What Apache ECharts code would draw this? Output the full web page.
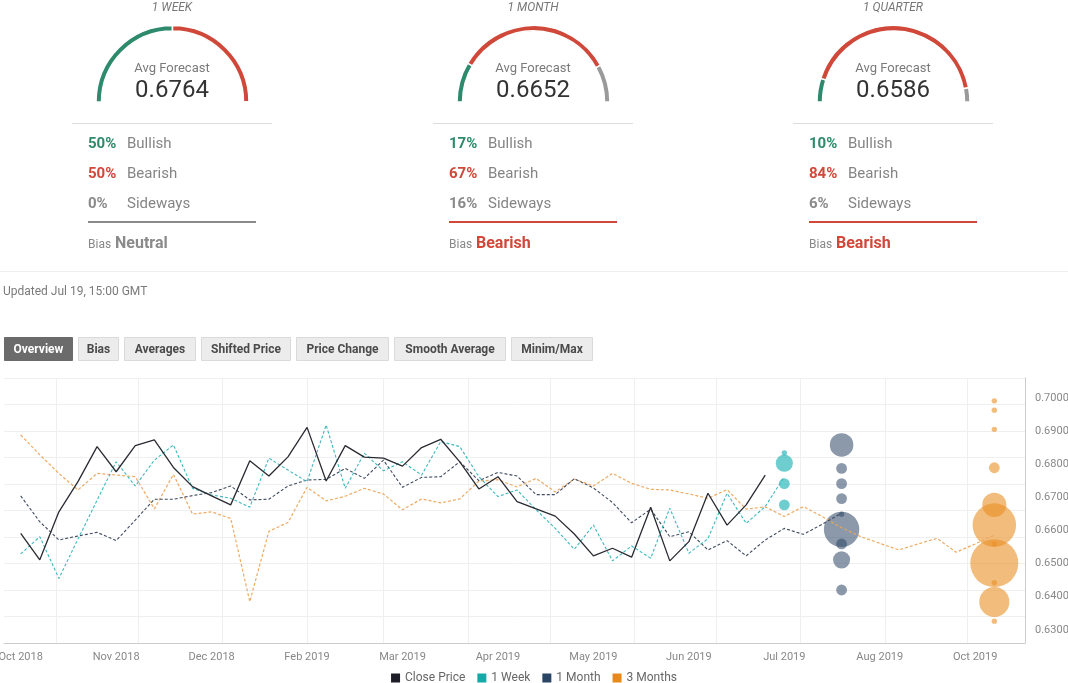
<!DOCTYPE html>
<html>
<head>
<meta charset="utf-8">
<script src="https://cdn.jsdelivr.net/npm/echarts@6/dist/echarts.min.js"></script>
<style>
html,body{margin:0;padding:0;background:#fff;}
#main{width:1068px;height:683px;}
</style>
</head>
<body>
<div id="main"></div>
<script>
// ---------- DATA ----------
const weekDates = [
  '2018-10-19','2018-10-26','2018-11-02','2018-11-09','2018-11-16','2018-11-23','2018-11-30',
  '2018-12-07','2018-12-14','2018-12-21','2018-12-28','2019-01-04','2019-01-11','2019-01-18',
  '2019-01-25','2019-02-01','2019-02-08','2019-02-15','2019-02-22','2019-03-01','2019-03-08',
  '2019-03-15','2019-03-22','2019-03-29','2019-04-05','2019-04-12','2019-04-19','2019-04-26',
  '2019-05-03','2019-05-10','2019-05-17','2019-05-24','2019-05-31','2019-06-07','2019-06-14',
  '2019-06-21','2019-06-28','2019-07-05','2019-07-12','2019-07-19','2019-07-26','2019-08-02',
  '2019-08-09','2019-08-16','2019-08-23','2019-08-30','2019-09-06','2019-09-13','2019-09-20',
  '2019-09-27','2019-10-04','2019-10-11'
];
const closePrice = [
  0.6591,0.6511,0.6656,0.6747,0.6853,0.6777,0.6856,0.6873,0.6790,0.6732,
  0.6704,0.6677,0.6810,0.6764,0.6822,0.6911,0.6749,0.6856,0.6821,0.6818,
  0.6794,0.6850,0.6875,0.6807,0.6725,0.6762,0.6687,0.6665,0.6643,0.6589,
  0.6523,0.6546,0.6519,0.6670,0.6508,0.6566,0.6712,0.6616,0.6677,0.6767
];
const week1 = [
  0.6529,0.6581,0.6455,0.6574,0.6691,0.6807,0.6734,0.6812,0.6858,0.6727,
  0.6707,0.6697,0.6670,0.6818,0.6782,0.6747,0.6918,0.6727,0.6833,0.6780,
  0.6807,0.6767,0.6868,0.6853,0.6762,0.6702,0.6722,0.6662,0.6606,0.6543,
  0.6616,0.6508,0.6553,0.6516,0.6667,0.6531,0.6575,0.6712,0.6621,0.6672,0.6762
];
const month1 = [
  0.6704,0.6626,0.6571,0.6583,0.6594,0.6569,0.6631,0.6694,0.6694,0.6705,
  0.6714,0.6734,0.6692,0.6694,0.6734,0.6752,0.6754,0.6787,0.6757,0.6812,
  0.6730,0.6760,0.6762,0.6807,0.6750,0.6775,0.6764,0.6708,0.6708,0.6756,
  0.6728,0.6684,0.6623,0.6664,0.6581,0.6596,0.6541,0.6569,0.6523,0.6571,
  0.6606,0.6588,0.6619,0.6652
];
const months3 = [
  0.6888,0.6828,0.6772,0.6722,0.6772,0.6767,0.6762,0.6665,0.6769,0.6649,
  0.6656,0.6636,0.6385,0.6597,0.6624,0.6730,0.6689,0.6703,0.6727,0.6710,
  0.6662,0.6695,0.6683,0.6695,0.6749,0.6753,0.6731,0.6757,0.6716,0.6755,
  0.6734,0.6772,0.6742,0.6724,0.6722,0.6710,0.6697,0.6723,0.6664,0.6671,
  0.6642,0.6672,0.6641,0.6608,0.6581,0.6561,0.6541,0.6559,0.6576,0.6534,
  0.6559,0.6586
];
// forecast bubbles: [value, number of forecasts]
const week1Date = '2019-07-26';
const month1Date = '2019-08-16';
const months3Date = '2019-10-11';
const week1Bubbles = [[0.6834,1],[0.6803,10],[0.6741,4],[0.6677,4]];
const month1Bubbles = [[0.6858,19],[0.6787,4],[0.6741,4],[0.6696,4],[0.6649,1],[0.6603,43],[0.6559,4],[0.6511,10],[0.6420,4]];
const months3Bubbles = [[0.6991,1],[0.6963,1],[0.6905,1],[0.6789,4],[0.6677,20],[0.6616,65],[0.6559,1],[0.6501,79],[0.6442,1],[0.6384,31],[0.6326,1]];

const monthStarts = ['2018-11-01','2018-12-01','2019-01-01','2019-02-01','2019-03-01','2019-04-01',
  '2019-05-01','2019-06-01','2019-07-01','2019-08-01','2019-09-01','2019-10-01'];
const xLabelDates = ['2018-10-19','2018-11-23','2018-12-28','2019-02-01','2019-03-08','2019-04-12',
  '2019-05-17','2019-06-21','2019-07-26','2019-08-30','2019-10-04'];
const xTickLabels = ['Oct 2018','Nov 2018','Dec 2018','Feb 2019','Mar 2019','Apr 2019',
  'May 2019','Jun 2019','Jul 2019','Aug 2019','Oct 2019'];
const yTickLabels = [0.63,0.64,0.65,0.66,0.67,0.68,0.69,0.70];

const seriesNames = ['Close Price','1 Week','1 Month','3 Months'];
const horizons = ['1 WEEK','1 MONTH','1 QUARTER'];
const avgForecast = ['0.6764','0.6652','0.6586'];
const bullish = [50,17,10];
const bearish = [50,67,84];
const sideways = [0,16,6];
const biasWords = ['Neutral','Bearish','Bearish'];
const tabs = ['Overview','Bias','Averages','Shifted Price','Price Change','Smooth Average','Minim/Max'];
const updatedText = 'Updated Jul 19, 15:00 GMT';

// ---------- HELPERS ----------
const ts = s => { const p = s.split('-').map(Number); return Date.UTC(p[0], p[1]-1, p[2]); };
const pair = (arr) => arr.map((v,i) => [ts(weekDates[i]), v]);
const bubbles = (date, arr) => arr.map(b => [ts(date), b[0], b[1]]);
const labelMap = {};
xLabelDates.forEach((d,i) => { labelMap[ts(d)] = xTickLabels[i]; });
const labelFor = v => {
  let best = '', bd = Infinity;
  for (const k in labelMap) { const d = Math.abs(Number(k) - v); if (d < bd) { bd = d; best = labelMap[k]; } }
  return bd < 86400000 ? best : '';
};

const GREEN = '#2e8a6c', RED = '#d0483a', GRAY = '#9a9a9a';
const FONT = 'Roboto, "Noto Sans", sans-serif';
const legendColors = ['#1d1d28','#19a8a8','#2b4565','#e88a1a'];

// ---------- TOP PANELS ----------
const graphics = [];
const pies = [];
const panelLeft = [72, 433, 793];
horizons.forEach((h, i) => {
  const ox = panelLeft[i], cx = ox + 100;
  graphics.push({type:'text', x:cx, y:8, style:{text:h, fill:'#777', font:'italic 12px '+FONT, align:'center', verticalAlign:'middle'}});
  graphics.push({type:'text', x:cx, y:68.5, style:{text:'Avg Forecast', fill:'#7a7a7a', font:'13px '+FONT, align:'center', verticalAlign:'middle'}});
  graphics.push({type:'text', x:cx, y:90.5, style:{text:avgForecast[i], fill:'#333', font:'24px '+FONT, align:'center', verticalAlign:'middle'}});
  graphics.push({type:'line', shape:{x1:ox, y1:123.5, x2:ox+200, y2:123.5}, style:{stroke:'#dddddd', lineWidth:1}});
  const rows = [[bullish[i], 'Bullish', GREEN],[bearish[i], 'Bearish', RED],[sideways[i], 'Sideways', '#8a8a8a']];
  rows.forEach((r, j) => {
    const y = 144.5 + j*30;
    graphics.push({type:'text', x:ox+16, y:y, style:{text:r[0]+'%', fill:r[2], font:'bold 15px '+FONT, align:'left', verticalAlign:'middle'}});
    graphics.push({type:'text', x:ox+55, y:y, style:{text:r[1], fill:'#858585', font:'15px '+FONT, align:'left', verticalAlign:'middle'}});
  });
  const biasColor = biasWords[i] === 'Neutral' ? '#8a8a8a' : RED;
  graphics.push({type:'line', shape:{x1:ox+16, y1:222, x2:ox+184, y2:222}, style:{stroke:biasColor, lineWidth:2}});
  graphics.push({type:'text', x:ox+16, y:251, style:{text:'Bias', fill:'#888', font:'12px '+FONT, align:'left', verticalAlign:'bottom'}});
  graphics.push({type:'text', x:ox+43, y:252, style:{text:biasWords[i], fill:biasColor, font:'bold 16px '+FONT, align:'left', verticalAlign:'bottom'}});
  pies.push({
    type:'pie', silent:true, center:[cx+0.5, 102], radius:[71, 76.5], startAngle:180, clockwise:true,
    label:{show:false}, labelLine:{show:false}, animation:false,
    itemStyle:{borderColor:'#fff', borderWidth:1.5},
    data:[
      {name:'bull'+i, value:bullish[i], itemStyle:{color:GREEN}},
      {name:'bear'+i, value:bearish[i], itemStyle:{color:RED}},
      {name:'side'+i, value:sideways[i], itemStyle:{color:GRAY}},
      {name:'rest'+i, value:bullish[i]+bearish[i]+sideways[i], itemStyle:{color:'rgba(0,0,0,0)', borderWidth:0}}
    ]
  });
});
graphics.push({type:'line', shape:{x1:0, y1:271.5, x2:1068, y2:271.5}, style:{stroke:'#eeeeee', lineWidth:1}});
graphics.push({type:'text', x:3, y:292, style:{text:updatedText, fill:'#7a7a7a', font:'12px '+FONT, align:'left', verticalAlign:'middle'}});

// tabs
const tabBoxes = [[4,68],[78,40],[124,71],[201,89],[296,92],[394,111],[511,81]];
tabs.forEach((t, i) => {
  const b = tabBoxes[i];
  const active = i === 0;
  graphics.push({type:'rect', shape:{x:b[0]+0.5, y:337.5, width:b[1], height:23},
    style:{fill: active ? '#6b6b6b' : '#ececec', stroke: active ? '#6b6b6b' : '#dadada', lineWidth:1}});
  graphics.push({type:'text', x:b[0]+b[1]/2+0.5, y:350, style:{text:t, fill: active ? '#fff' : '#4a4a4a',
    font:'bold 12px '+FONT, align:'center', verticalAlign:'middle'}});
});

// ---------- CHART ----------
const dash = [3, 2];
const option = {
  animation: false,
  backgroundColor: '#fff',
  graphic: graphics,
  legend: {
    left: 'center', top: 667, icon: 'rect', itemWidth: 9, itemHeight: 9, itemGap: 12,
    textStyle: {fontSize: 12, color: '#666', fontFamily: FONT},
    itemStyle: {borderWidth: 0, opacity: 1},
    data: seriesNames.map((n, i) => ({name: n, itemStyle: {color: legendColors[i], borderWidth: 0, opacity: 1}}))
  },
  grid: {left: 4, right: 43, top: 378, bottom: 40, containLabel: false, outerBoundsMode: 'none'},
  xAxis: {
    type: 'value',
    min: Date.UTC(2018, 9, 12, 21),
    max: Date.UTC(2019, 9, 22, 6),
    axisLine: {show: true, onZero: false, lineStyle: {color: '#cccccc'}},
    axisTick: {show: false, customValues: monthStarts.map(ts)},
    splitLine: {show: true, lineStyle: {color: '#efefef', width: 1}},
    axisLabel: {
      customValues: xLabelDates.map(ts),
      formatter: v => labelFor(Number(v)),
      color: '#888', fontSize: 11, fontFamily: FONT, margin: 9
    }
  },
  yAxis: {
    type: 'value', position: 'right',
    min: 0.626, max: 0.706, interval: 0.008,
    axisLine: {show: true, lineStyle: {color: '#cccccc'}},
    axisTick: {show: false},
    splitLine: {show: true, lineStyle: {color: '#efefef', width: 1}},
    axisLabel: {
      customValues: yTickLabels,
      formatter: v => Number(v).toFixed(4),
      color: '#888', fontSize: 11, fontFamily: FONT, margin: 10
    }
  },
  series: [
    ...pies,
    {name: 'Close Price', type: 'line', data: pair(closePrice), showSymbol: false, symbol: 'none',
      lineStyle: {color: '#2a2a32', width: 1.3}, itemStyle: {color: legendColors[0]}, z: 5},
    {name: '1 Week', type: 'line', data: pair(week1), showSymbol: false, symbol: 'none',
      lineStyle: {color: '#3fb8bd', width: 1.1, type: dash}, itemStyle: {color: legendColors[1]}, z: 4},
    {name: '1 Month', type: 'line', data: pair(month1), showSymbol: false, symbol: 'none',
      lineStyle: {color: '#3f4b5f', width: 1.1, type: dash}, itemStyle: {color: legendColors[2]}, z: 3},
    {name: '3 Months', type: 'line', data: pair(months3), showSymbol: false, symbol: 'none',
      lineStyle: {color: '#eea55a', width: 1.2, type: dash, opacity: 0.95}, itemStyle: {color: legendColors[3]}, z: 2},
    {name: '1 Week', type: 'scatter', data: bubbles(week1Date, week1Bubbles), symbolSize: d => 5.4*Math.sqrt(d[2]),
      itemStyle: {color: '#1fb2b6', opacity: 0.65}, silent: true, z: 1},
    {name: '1 Month', type: 'scatter', data: bubbles(month1Date, month1Bubbles), symbolSize: d => 5.4*Math.sqrt(d[2]),
      itemStyle: {color: '#2b4565', opacity: 0.55}, silent: true, z: 1},
    {name: '3 Months', type: 'scatter', data: bubbles(months3Date, months3Bubbles), symbolSize: d => 5.4*Math.sqrt(d[2]),
      itemStyle: {color: '#ea8f25', opacity: 0.6}, silent: true, z: 1}
  ]
};
const chart = echarts.init(document.getElementById('main'), null, {renderer: 'canvas'});
chart.setOption(option);
</script>
</body>
</html>
